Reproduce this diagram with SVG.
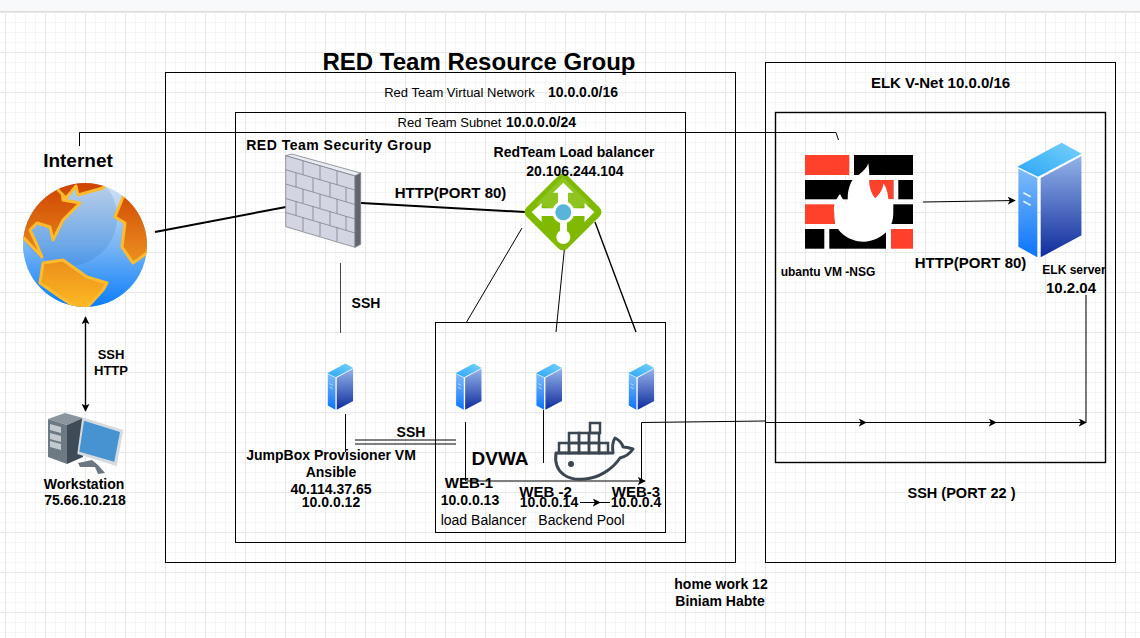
<svg xmlns="http://www.w3.org/2000/svg" width="1140" height="638" viewBox="0 0 1140 638">
<style>
text{font-family:"Liberation Sans",Arial,sans-serif;font-weight:bold;fill:#000;text-anchor:middle}
.r{font-weight:normal}
.box{fill:none;stroke:#000;stroke-width:1}
.c{fill:none;stroke:#000;stroke-width:1}
.t{stroke-width:2}
.m{stroke-width:1.4}
.g{stroke:#444}
</style>
<defs>
<pattern id="minor" width="10" height="10" patternUnits="userSpaceOnUse" x="5" y="12"><path d="M.5 0V10M0 .5H10" fill="none" stroke="#f5f5f5" stroke-width="1"/></pattern>
<pattern id="major" width="40" height="40" patternUnits="userSpaceOnUse" x="5" y="12"><path d="M.5 0V40M0 .5H40" fill="none" stroke="#e8e8e8" stroke-width="1"/></pattern>
<marker id="a" viewBox="0 0 10 10" refX="9" refY="5" markerWidth="8" markerHeight="8" markerUnits="userSpaceOnUse" orient="auto-start-reverse"><path d="M0 0L10 5L0 10L2.500 5Z" fill="#000"/></marker>
<linearGradient id="sL" x1="0" y1="0" x2="0" y2="1"><stop offset="0" stop-color="#7fbcf8"/><stop offset="1" stop-color="#0a74fb"/></linearGradient>
<linearGradient id="sR" x1="0" y1="0" x2="0" y2="1"><stop offset="0" stop-color="#93b3ea"/><stop offset="1" stop-color="#0f2c9c"/></linearGradient>
<linearGradient id="sT" x1="0" y1="1" x2="1" y2="0"><stop offset="0" stop-color="#2aa5f5"/><stop offset="1" stop-color="#78d2fb"/></linearGradient>
<linearGradient id="g" x1="0" y1="0" x2="0" y2="1"><stop offset="0" stop-color="#d5e5f6"/><stop offset=".5" stop-color="#7ab6f5"/><stop offset="1" stop-color="#0a7dfa"/></linearGradient>
<linearGradient id="land" gradientUnits="userSpaceOnUse" x1="0" y1="183" x2="0" y2="308"><stop offset="0" stop-color="#cf4300"/><stop offset=".5" stop-color="#e5801a"/><stop offset="1" stop-color="#fdba22"/></linearGradient>
<clipPath id="globe"><circle cx="85" cy="245" r="62"/></clipPath>
<symbol id="srv" viewBox="0 0 193 344">
<path d="M0 72L133 0L193 33L62 102Z" fill="url(#sT)"/>
<path d="M3 78L60 106V344L3 312Z" fill="url(#sL)"/>
<path d="M70 106L193 40V278L70 344Z" fill="url(#sR)"/>
<path d="M18 150L40 162M18 176L40 188" stroke="#fff" stroke-width="5" opacity=".85"/>
</symbol>
</defs>
<rect width="1140" height="638" fill="#fff"/>
<rect width="1140" height="638" fill="url(#minor)"/>
<rect width="1140" height="638" fill="url(#major)"/>
<rect width="1140" height="11" fill="#f8f9fb"/>
<rect y="11" width="1140" height="1" fill="#dcdcdc"/>

<g id="boxes">
<rect class="box" x="165.500" y="72.500" width="570" height="490"/>
<rect class="box" x="235.500" y="112.500" width="450" height="430"/>
<rect class="box" x="435.500" y="322.500" width="230" height="210"/>
<rect class="box" x="765.500" y="62.500" width="350" height="500"/>
<rect class="box m" x="775.500" y="112.500" width="330" height="350"/>
</g>

<g id="connectors">
<path class="c" d="M79.500 146V132.500H836L838.500 140"/>
<path class="c t" d="M155 232L286 207"/>
<path class="c t" d="M361 203L525 212"/>
<path class="c g" d="M340.500 263V333"/>
<path class="c" d="M522 228L466 323"/>
<path class="c" d="M565 243L556 332"/>
<path class="c m" d="M595 222L636 332"/>
<path class="c m" d="M85.500 317V411" marker-start="url(#a)" marker-end="url(#a)"/>
<path class="c" d="M345.500 414V452"/>
<path class="c" d="M355 440H456M355 444H456"/>
<path class="c" d="M465.500 422V481H645" marker-end="url(#a)"/>
<path class="c" d="M543.500 410V463"/>
<path class="c" d="M641.500 483V422.500L765 421"/>
<path class="c" d="M765 422.500H866" marker-end="url(#a)"/>
<path class="c" d="M866 422.500H996" marker-end="url(#a)"/>
<path class="c" d="M996 422.500H1086" marker-end="url(#a)"/>
<path class="c" d="M1086 422.500V295"/>
<path class="c" d="M580 502.500H600" marker-end="url(#a)"/>
<path class="c" d="M600 502.500H610"/>
<path class="c" d="M923 202L1015 200.500" marker-end="url(#a)"/>
</g>

<g id="title"><text x="479" y="70" font-size="24">RED Team Resource Group</text></g>
<g id="vnet-label"><text class="r" x="459.500" y="97" font-size="13">Red Team Virtual Network</text><text x="583" y="97" font-size="14">10.0.0.0/16</text></g>
<g id="subnet-label"><text class="r" x="449.500" y="127" font-size="13">Red Team Subnet</text><text x="541" y="127" font-size="14">10.0.0.0/24</text></g>
<g id="elk-label"><text x="940.500" y="88" font-size="15">ELK V-Net 10.0.0/16</text></g>

<g id="internet">
<text x="78" y="167" font-size="19">Internet</text>
<circle cx="85" cy="245" r="62" fill="url(#g)"/>
<g clip-path="url(#globe)">
<circle cx="68" cy="217" r="49" fill="#1a4f9c" opacity=".14"/>
<g stroke="#fdbb2d" stroke-width="3" stroke-linejoin="round" fill="url(#land)">
<path d="M10 250V170H60L63 200L80 203L63 220L53 240L50 227L37 223L30 230L37 245L42 257L24 238Z"/>
<path d="M60 175H110L103 188L78 195L76 186L66 198L58 190Z"/>
<path d="M43 263L63 260L87 277L107 283L103 290L83 312L60 297L40 283Z"/>
<path d="M123 197L115 217L125 223L122 247L133 263L147 253L155 230L137 195Z"/>
</g>
</g>
</g>

<g id="firewall" stroke="#7f828c" stroke-width=".8">
<path d="M285.700 155.700L291.700 154L360.700 173L355 176Z" fill="#e9ecf2"/>
<path d="M285.700 155.700L355 176V247.300L285.700 226.700Z" fill="#d3d6e2"/>
<path d="M355 176L360.700 173V244.300L355 247.300Z" fill="#62656c"/>
<path d="M285.700 169.700L355 190M285.700 184L355 204.500M285.700 198.500L355 219M285.700 212.500L355 233" fill="none"/>
<path d="M303 161V175M320 166V180M337 171V185M296 173V187M313 178V192M330 183V197M346 188V202M303 189V203M320 194V208M337 199V213M296 201V215M313 206V220M330 211V225M346 216V230M303 217V231M320 222V236M337 227V241" fill="none"/>
</g>
<g id="security-label"><text x="339" y="150" font-size="14" letter-spacing=".5">RED Team Security Group</text></g>

<g id="load-balancer">
<rect x="534" y="183" width="58" height="58" rx="6" fill="#7fba00" transform="rotate(45 563 212)"/>
<path d="M563 177L590 204L563 212L536 204Z" fill="#9ccc3a" opacity=".55"/>
<path d="M531.700 212L541.700 203V208.300H558V192.700H553L563.300 182.700L573.500 192.700H568V208.300H584.500V203L594.300 212L584.500 222V216H567V232H560V216H541.700V222Z" fill="#fff"/>
<circle cx="563.300" cy="237" r="7" fill="#fff"/>
<circle cx="563.300" cy="212.300" r="11" fill="#fff"/>
<circle cx="563.300" cy="212.300" r="8" fill="#59b4d9"/>
<text x="574" y="157" font-size="14">RedTeam Load balancer</text>
<text x="575" y="176" font-size="14">20.106.244.104</text>
</g>
<g id="http80-label"><text x="450.500" y="198" font-size="15">HTTP(PORT 80)</text></g>
<g id="ssh-label"><text x="366" y="308" font-size="14">SSH</text></g>
<g id="ssh-http-label"><text x="111" y="359" font-size="13">SSH</text><text x="111" y="375" font-size="13">HTTP</text></g>

<g id="workstation">
<path d="M48 419L65 413L83 418L67 425Z" fill="#8a959e"/>
<path d="M48 419L67 425V464L48 457Z" fill="#6d7a84"/>
<path d="M67 425L83 418V457L67 464Z" fill="#3f4c57"/>
<path d="M50 424L61 427V433L50 430ZM50 433L61 436V442L50 439ZM50 441L61 444V450L50 447Z" fill="#c3cbd1"/>
<path d="M82.300 417.300L123.300 430L116.700 466L77.300 454Z" fill="#d6dbdf"/>
<path d="M84 420.700L120 432L114.300 461.700L79.300 451.700Z" fill="#4793d2"/>
<path d="M78 463L92 460L98 465L105 473L98 474L95 467L80 467Z" fill="#6b7680"/>
<text x="84" y="489" font-size="14">Workstation</text>
<text x="85" y="505" font-size="14">75.66.10.218</text>
</g>

<g id="jumpbox">
<use href="#srv" x="327.300" y="363.300" width="26" height="46.700"/>
<text x="331" y="460" font-size="14">JumpBox Provisioner VM</text>
<text x="331" y="477" font-size="14">Ansible</text>
<text x="331" y="494" font-size="14">40.114.37.65</text>
<text x="331" y="507" font-size="14">10.0.0.12</text>
</g>
<g id="ssh-label-2"><text x="411" y="437" font-size="14">SSH</text></g>

<g id="web1">
<use href="#srv" x="455.700" y="363.300" width="26" height="46.700"/>
<text x="469" y="488" font-size="15">WEB-1</text>
<text x="470" y="505" font-size="14">10.0.0.13</text>
</g>
<g id="web2">
<use href="#srv" x="536" y="363.300" width="26" height="46.700"/>
<text x="545.500" y="497" font-size="15">WEB -2</text>
<text x="549" y="507" font-size="14">10.0.0.14</text>
</g>
<g id="web3">
<use href="#srv" x="628.300" y="363.300" width="26" height="46.700"/>
<text x="636" y="497" font-size="15">WEB-3</text>
<text x="636" y="507" font-size="14">10.0.0.4</text>
</g>
<g id="dvwa-label"><text x="500" y="465" font-size="19">DVWA</text></g>
<g id="pool-label"><text class="r" x="483.500" y="525" font-size="14">load Balancer</text><text class="r" x="581.500" y="525" font-size="14">Backend Pool</text></g>

<g id="docker">
<path d="M556 453H613C612 446 613 441 615 438C619 440 622 443 623 447C627 447 630 448 633 449C629 455 624 457 620 458C612 470 598 478 585 479C570 481 553 474 556 453Z" fill="none" stroke="#3b4650" stroke-width="3" stroke-linejoin="round"/>
<g fill="none" stroke="#3b4650" stroke-width="2.500">
<rect x="559" y="443" width="10" height="10"/><rect x="569" y="443" width="10" height="10"/><rect x="579" y="443" width="10" height="10"/><rect x="589" y="443" width="10" height="10"/><rect x="599" y="443" width="9" height="10"/>
<rect x="569" y="433" width="10" height="10"/><rect x="579" y="433" width="10" height="10"/><rect x="589" y="433" width="10" height="10"/>
<rect x="590" y="423" width="10" height="10"/>
</g>
<circle cx="571" cy="464" r="3" fill="#3b4650"/>
</g>

<g id="nsg">
<g fill="#000">
<rect x="854" y="155" width="59" height="20"/>
<rect x="805" y="180" width="88.300" height="19.300"/>
<rect x="898.300" y="180" width="14.700" height="19.300"/>
<rect x="885" y="204.300" width="28" height="19.700"/>
<rect x="805" y="229" width="19.300" height="19.700"/>
<rect x="829.300" y="229" width="56.700" height="19.700"/>
</g>
<g fill="#ff412c">
<rect x="805" y="155" width="44.300" height="20"/>
<rect x="805" y="204.300" width="30" height="19.700"/>
<rect x="891" y="229" width="22" height="19.700"/>
<rect x="869.300" y="180" width="24" height="19.300"/>
</g>
<path d="M868.300 163.300C866 172 852 178 850.700 183.300C847 192 847 200 849.300 207.300C845 203 842 198 840 194C835 200 833 207 834.300 213.300C834 222 837 229 841.700 233.300C848 239 856 241.700 863.300 241.700C873 241.700 882 237 888.300 230C892 225 893.300 219 893.300 213.300V199.300H888.300C888 192 886 187 883.300 183.300C883 190 879 195 875 198.300C871 193 869 187 869.300 180C869.500 174 869 168 868.300 163.300Z" fill="#fff"/>
<text x="828" y="276" font-size="12">ubantu VM -NSG</text>
</g>
<g id="http80-label-2"><text x="970.500" y="268" font-size="15">HTTP(PORT 80)</text></g>

<g id="elk-server">
<use href="#srv" x="1017.300" y="142.700" width="64.400" height="114.600"/>
<text x="1074" y="274" font-size="12">ELK server</text>
<text x="1071" y="293" font-size="15">10.2.04</text>
</g>
<g id="ssh22-label"><text x="961.500" y="498" font-size="14.500">SSH (PORT 22 )</text></g>
<g id="note"><text x="721" y="589" font-size="14">home work 12</text><text x="720" y="606" font-size="14">Biniam Habte</text></g>
</svg>
